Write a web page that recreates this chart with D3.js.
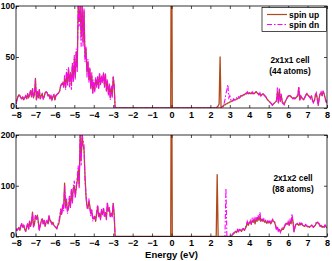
<!DOCTYPE html>
<html><head><meta charset="utf-8">
<script src="https://cdn.jsdelivr.net/npm/d3@7"></script>
<style>body{margin:0;background:#fff}svg{display:block}</style></head>
<body><div id="chart"></div>
<script>
// Energy grids (eV)
const gridStep = 0.05;
const valenceStart = -8.0;   // 106 points, -8.00 .. -2.75
const conductionStart = 2.3; // 115 points, 2.30 .. 8.00
const gapEnergy = [-2.7, -0.04, 0, 0.04, 2.25];

const xTicks = [-8,-7,-6,-5,-4,-3,-2,-1,0,1,2,3,4,5,6,7,8];
const yTicksTop = [0, 50, 100];
const yTicksBottom = [0, 100, 200];
const legendLabels = ["spin up", "spin dn"];
const panelLabels = [["2x1x1 cell", "(44 atoms)"], ["2x1x2 cell", "(88 atoms)"]];

// ---- 2x1x1 cell (44 atoms) ----
const up1Valence = [
 4,8,11,13,12,10,9,11,8,10,
 12,9,14,10,13,17,11,19,10,14,
 29,8,16,10,18,9,12,14,9,11,
 15,16,15,12,13,9,12,8,11,13,
 8,12,13,14,15,17,22,23,24,22,
 28,20,34,24,38,26,33,22,42,28,
 48,30,55,40,100,85,100,70,100,65,
 95,50,58,35,45,28,38,20,32,15,
 25,18,28,22,30,20,33,24,30,26,
 34,22,33,18,26,15,22,10,20,12,
 30,22,0,0,0,0];
const dn1Valence = [
 4,8,11,13,12,10,9,11,8,10,
 12,9,14,10,13,17,11,19,10,14,
 28,8,16,10,18,9,12,14,9,11,
 15,16,15,12,13,9,12,8,11,13,
 8,12,13,14,15,17,22,24,26,20,
 32,18,38,22,40,20,36,18,45,25,
 52,28,58,35,100,80,100,60,100,60,
 98,45,60,30,48,25,40,18,35,14,
 28,15,30,20,32,18,35,22,32,24,
 35,20,34,16,28,12,24,8,22,10,
 31,24,0,0,0,0];
const up1Gap = [0,0,250,0,0];
const dn1Gap = [0,0,0,0,0];
const up1Conduction = [
 0,1,2,4,50,0,1,2,3,3,
 4,4,5,5,6,6,7,7,8,8,
 8,9,9,10,10,11,12,12,13,13,
 14,14,15,14,15,14,14,15,14,14,
 15,16,15,14,13,14,12,13,14,13,
 12,11,9,8,7,6,5,4,3,4,
 5,6,7,16,5,18,7,12,6,5,
 4,6,8,10,11,12,12,11,10,9,
 10,9,10,11,12,20,8,12,10,9,
 8,10,12,14,13,12,11,10,12,8,
 6,7,12,14,9,3,10,14,15,12,
 16,14,10,7,5];
const dn1Conduction = [
 0,0,0,0,0,0,0,0,4,8,
 14,18,23,10,12,8,9,7,9,8,
 9,10,9,11,10,12,12,13,13,14,
 15,14,16,14,15,15,14,16,14,15,
 16,16,15,15,13,15,12,14,14,13,
 12,11,10,8,7,6,5,4,2,4,
 5,6,7,20,5,19,6,14,5,4,
 3,6,8,10,12,12,13,11,10,9,
 10,9,10,12,13,21,7,12,10,9,
 8,10,12,15,13,12,11,9,12,7,
 5,7,13,15,9,2,10,15,16,11,
 17,14,9,6,5];

// ---- 2x1x2 cell (88 atoms) ----
const up2Valence = [
 15,12,14,18,12,20,25,18,22,14,
 10,18,25,15,30,20,28,48,20,25,
 40,35,42,28,14,22,30,35,25,32,
 20,28,30,25,40,32,30,25,28,22,
 20,18,15,22,25,35,50,45,60,55,
 105,60,70,50,55,75,60,90,70,95,
 100,80,95,110,130,100,200,150,200,180,
 170,120,80,60,55,70,60,45,50,35,
 35,40,30,45,60,40,45,35,50,45,
 55,40,45,35,65,50,55,40,45,40,
 65,45,0,0,0,0];
const dn2Valence = [
 16,12,15,18,13,22,26,17,22,15,
 11,19,26,14,32,20,30,46,18,26,
 42,33,40,26,10,24,32,36,24,33,
 20,30,32,24,42,30,28,24,27,20,
 19,18,16,24,28,40,55,42,65,50,
 100,55,75,45,60,80,55,95,65,100,
 110,75,100,115,140,95,200,140,200,190,
 180,110,85,55,60,75,55,40,55,30,
 38,35,32,50,62,38,48,32,55,42,
 58,38,48,32,68,48,58,38,48,38,
 66,40,0,0,0,0];
const up2Gap = [0,0,500,0,0];
const dn2Gap = [0,0,0,0,0];
const up2Conduction = [
 0,122,0,0,0,0,0,0,0,0,
 0,0,0,0,0,0,2,4,6,8,
 10,8,12,10,14,12,10,14,15,12,
 16,20,28,22,26,30,24,32,28,33,
 25,35,30,38,32,40,30,34,30,32,
 28,30,26,29,27,30,25,28,32,30,
 28,22,15,18,12,14,10,12,15,14,
 18,22,26,24,28,22,30,25,38,30,
 10,18,24,25,24,22,25,23,26,22,
 21,20,22,21,19,20,18,20,22,20,
 18,20,22,26,28,26,24,20,22,18,
 20,18,22,19,17];
const dn2Conduction = [
 0,0,0,0,0,0,0,0,0,0,
 95,0,0,0,0,0,2,5,7,10,
 12,9,14,10,16,12,11,15,16,13,
 18,22,30,24,28,32,26,35,30,36,
 28,38,32,42,35,48,32,36,32,35,
 30,32,28,31,28,33,26,30,34,31,
 30,24,12,20,8,16,8,14,17,15,
 19,24,28,25,30,24,33,28,45,28,
 8,18,26,27,25,23,27,24,28,23,
 22,21,24,22,20,21,19,21,24,21,
 19,21,24,28,30,27,25,21,23,19,
 21,19,23,20,18];

const valenceEnergy = d3.range(up1Valence.length).map(i => +(valenceStart + i*gridStep).toFixed(2));
const conductionEnergy = d3.range(up1Conduction.length).map(i => +(conductionStart + i*gridStep).toFixed(2));
const energy = valenceEnergy.concat(gapEnergy, conductionEnergy);

const panels = [
  {up: up1Valence.concat(up1Gap, up1Conduction), dn: dn1Valence.concat(dn1Gap, dn1Conduction),
   ymax: 100, yTicks: yTicksTop, top: 6, bottom: 108, labels: panelLabels[0], lx: 290, ly: 63, legend: true},
  {up: up2Valence.concat(up2Gap, up2Conduction), dn: dn2Valence.concat(dn2Gap, dn2Conduction),
   ymax: 200, yTicks: yTicksBottom, top: 135, bottom: 236.5, labels: panelLabels[1], lx: 293, ly: 181, legend: false}
];

const W = 332, H = 261;
const left = 16, right = 327;
const upColor = "#b04a1a", dnColor = "#ff00ff";
const font = "'Liberation Sans', Arial, sans-serif";

const svg = d3.select("#chart").append("svg").attr("width", W).attr("height", H)
  .style("font-family", font);

const x = d3.scaleLinear().domain([-8, 8]).range([left, right]);
const fmt = d => d < 0 ? "\u2212" + Math.abs(d) : String(d);

panels.forEach((p, pi) => {
  const y = d3.scaleLinear().domain([0, p.ymax]).range([p.bottom, p.top]);
  const g = svg.append("g");
  const clipId = "clip" + pi;
  svg.append("clipPath").attr("id", clipId).append("rect")
    .attr("x", left).attr("y", p.top).attr("width", right - left).attr("height", p.bottom - p.top);

  const line = d3.line().x((d, i) => x(energy[i])).y(d => y(d));
  const plot = g.append("g").attr("clip-path", `url(#${clipId})`);
  plot.append("path").datum(p.up).attr("d", line).attr("fill", "none")
    .attr("stroke", upColor).attr("stroke-width", 1.3).attr("stroke-linejoin", "round");
  plot.append("path").datum(p.dn).attr("d", line).attr("fill", "none")
    .attr("stroke", dnColor).attr("stroke-width", 1.1).attr("stroke-dasharray", "5,2,1.5,2");

  // axes with inward ticks
  const axB = d3.axisBottom(x).tickValues(xTicks).tickSizeInner(-3).tickSizeOuter(0).tickPadding(3.5).tickFormat(fmt);
  const axT = d3.axisTop(x).tickValues(xTicks).tickSizeInner(-3).tickSizeOuter(0).tickFormat("");
  const axL = d3.axisLeft(y).tickValues(p.yTicks).tickSizeInner(-3).tickSizeOuter(0).tickPadding(3).tickFormat(d => d);
  const axR = d3.axisRight(y).tickValues(p.yTicks).tickSizeInner(-3).tickSizeOuter(0).tickFormat("");
  const ab = g.append("g").attr("transform", `translate(0,${p.bottom})`).call(axB);
  g.append("g").attr("transform", `translate(0,${p.top})`).call(axT);
  const al = g.append("g").attr("transform", `translate(${left},0)`).call(axL);
  g.append("g").attr("transform", `translate(${right},0)`).call(axR);
  g.selectAll(".domain").remove();
  g.selectAll(".tick line").attr("stroke", "#000").attr("stroke-width", 0.7);
  ab.selectAll("text").attr("font-size", 9).attr("font-weight", "bold").attr("font-family", font).attr("fill", "#000");
  al.selectAll("text").attr("font-size", 8.5).attr("font-weight", "bold").attr("font-family", font).attr("fill", "#000")
    .attr("dx", 2).attr("dy", (d) => d === 0 ? "0.1em" : "0.32em");
  g.append("rect").attr("x", left).attr("y", p.top).attr("width", right - left).attr("height", p.bottom - p.top)
    .attr("fill", "none").attr("stroke", "#000").attr("stroke-width", 0.8);

  const t = g.append("text").attr("x", p.lx).attr("y", p.ly).attr("text-anchor", "middle")
    .attr("font-size", 8.3).attr("font-weight", "bold").attr("fill", "#000");
  t.append("tspan").attr("x", p.lx).attr("dy", 0).text(p.labels[0]);
  t.append("tspan").attr("x", p.lx).attr("dy", 11).text(p.labels[1]);

  if (p.legend) {
    const lg = g.append("g");
    lg.append("rect").attr("x", 262).attr("y", p.top + 1.5).attr("width", 64.5).attr("height", 24)
      .attr("fill", "#fff").attr("stroke", "#000").attr("stroke-width", 0.7);
    [[upColor, null, 1.2], [dnColor, "5,2,1.5,2", 1]].forEach((s, i) => {
      const yy = p.top + 8.5 + i * 10;
      lg.append("line").attr("x1", 267).attr("x2", 287).attr("y1", yy).attr("y2", yy)
        .attr("stroke", s[0]).attr("stroke-width", s[2]).attr("stroke-dasharray", s[1]);
      lg.append("text").attr("x", 289).attr("y", yy + 3).attr("font-size", 8.5).attr("font-weight", "bold")
        .attr("fill", "#000").text(legendLabels[i]);
    });
  }
});

svg.append("text").attr("x", (left + right) / 2).attr("y", 258).attr("text-anchor", "middle")
  .attr("font-size", 9.5).attr("font-weight", "bold").attr("fill", "#000").text("Energy (eV)");
</script>
</body></html>
